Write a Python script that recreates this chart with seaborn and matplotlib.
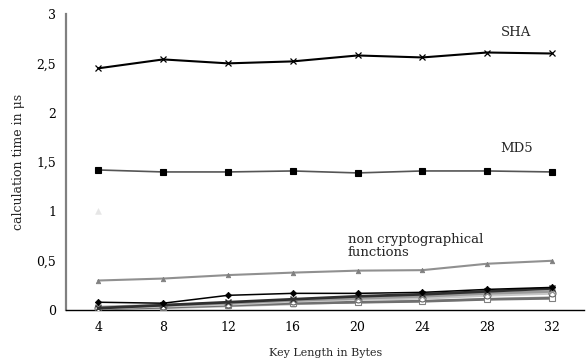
import numpy as np
import pandas as pd
import matplotlib
matplotlib.use("Agg")
import matplotlib.pyplot as plt
import seaborn as sns
from matplotlib.ticker import FixedLocator, FuncFormatter

key_lengths = [4, 8, 12, 16, 20, 24, 28, 32]

sha = [2.45, 2.54, 2.50, 2.52, 2.58, 2.56, 2.61, 2.60]
md5 = [1.42, 1.40, 1.40, 1.41, 1.39, 1.41, 1.41, 1.40]
hash_a = [0.30, 0.32, 0.355, 0.38, 0.40, 0.405, 0.47, 0.50]
hash_b = [0.08, 0.07, 0.15, 0.17, 0.17, 0.18, 0.21, 0.23]
hash_c = [0.02, 0.05, 0.08, 0.11, 0.14, 0.16, 0.19, 0.22]
hash_d = [0.03, 0.05, 0.07, 0.10, 0.12, 0.14, 0.17, 0.19]
hash_e = [0.02, 0.04, 0.06, 0.09, 0.11, 0.12, 0.15, 0.17]
hash_f = [0.01, 0.03, 0.05, 0.07, 0.08, 0.09, 0.11, 0.12]
hash_g = [0.01, 0.02, 0.04, 0.06, 0.08, 0.09, 0.11, 0.13]
stray_point = [1.0]

y_ticks = [0, 0.5, 1, 1.5, 2, 2.5, 3]

series = {
    "SHA": sha, "MD5": md5, "A": hash_a, "B": hash_b, "C": hash_c,
    "D": hash_d, "E": hash_e, "F": hash_f, "G": hash_g,
}
styles = {
    "SHA": dict(color="black", lw=1.5, marker="x", ms=4.5, mfc="black", mec="black", mew=0.9),
    "MD5": dict(color="#555555", lw=1.2, marker="s", ms=4.2, mfc="black", mec="black", mew=0.8),
    "A": dict(color="#909090", lw=1.5, marker="^", ms=3.2, mfc="#808080", mec="#808080", mew=0.6),
    "B": dict(color="black", lw=1.1, marker="D", ms=3.2, mfc="black", mec="black", mew=0.6),
    "C": dict(color="#303030", lw=2.0, marker="x", ms=4.5, mfc="#303030", mec="#303030", mew=1.0),
    "D": dict(color="#9a9a9a", lw=2.0, marker="x", ms=4.5, mfc="#909090", mec="#909090", mew=1.0),
    "E": dict(color="#c8c8c8", lw=2.0, marker="o", ms=5, mfc="white", mec="#606060", mew=0.8),
    "F": dict(color="#707070", lw=2.0, marker="s", ms=4.5, mfc="white", mec="#808080", mew=0.8),
    "G": dict(color="#b0b0b0", lw=1.5, marker="^", ms=3.5, mfc="#a0a0a0", mec="#a0a0a0", mew=0.6),
}

rows = []
for name, vals in series.items():
    for i, v in enumerate(vals):
        rows.append({"series": name, "pos": i, "time": v})
df = pd.DataFrame(rows)

sns.set_theme(style="white")
plt.rcParams["font.family"] = ["DejaVu Serif"]

fig = plt.figure(figsize=(5.87, 3.64), dpi=100)
ax = fig.add_axes([0.1124, 0.148, 0.883, 0.8135])

draw_order = ["G", "F", "E", "D", "C", "B", "A", "MD5", "SHA"]
for name in draw_order:
    st = styles[name]
    sub = df[df["series"] == name]
    sns.lineplot(data=sub, x="pos", y="time", ax=ax, color=st["color"],
                 linewidth=st["lw"], marker=st["marker"], markersize=st["ms"],
                 markerfacecolor=st["mfc"], markeredgecolor=st["mec"],
                 markeredgewidth=st["mew"], legend=False, zorder=3)

# lone light point at the first key length
sns.scatterplot(x=[0], y=stray_point, ax=ax, marker="^", s=18,
                color="#e6e6e6", edgecolor="#e6e6e6", legend=False, zorder=3)

ax.set_xlim(-0.5, len(key_lengths) - 0.5)
ax.set_ylim(0, 3)
ax.set_xticks(range(len(key_lengths)))
ax.set_xticklabels([str(k) for k in key_lengths])
ax.xaxis.set_minor_locator(FixedLocator(np.arange(-0.5, len(key_lengths), 1.0)))
ax.tick_params(axis="x", which="major", length=0, pad=8, labelsize=9)
ax.tick_params(axis="x", which="minor", length=4, width=0.8, color="black", direction="out")
ax.set_yticks(y_ticks)
ax.yaxis.set_major_formatter(FuncFormatter(lambda v, p: ("%g" % v).replace(".", ",")))
ax.tick_params(axis="y", length=3, width=0.8, color="black", direction="out", labelsize=9, pad=4)
ax.tick_params(axis="both", colors="black")

for s in ["top", "right"]:
    ax.spines[s].set_visible(False)
ax.spines["left"].set_color("#808080")
ax.spines["left"].set_linewidth(1.6)
ax.spines["bottom"].set_color("black")
ax.spines["bottom"].set_linewidth(1.0)

ax.set_xlabel("Key Length in Bytes", fontsize=8, labelpad=10)
ax.set_ylabel("calculation time in μs", fontsize=9, labelpad=8)

ax.text(6.21, 2.81, "SHA", fontsize=9.5, ha="left", va="center")
ax.text(6.21, 1.64, "MD5", fontsize=9.5, ha="left", va="center")
ax.text(3.85, 0.65, "non cryptographical\nfunctions", fontsize=9.5,
        ha="left", va="center", linespacing=1.0)

fig.savefig("out.png", dpi=100, facecolor="white")
